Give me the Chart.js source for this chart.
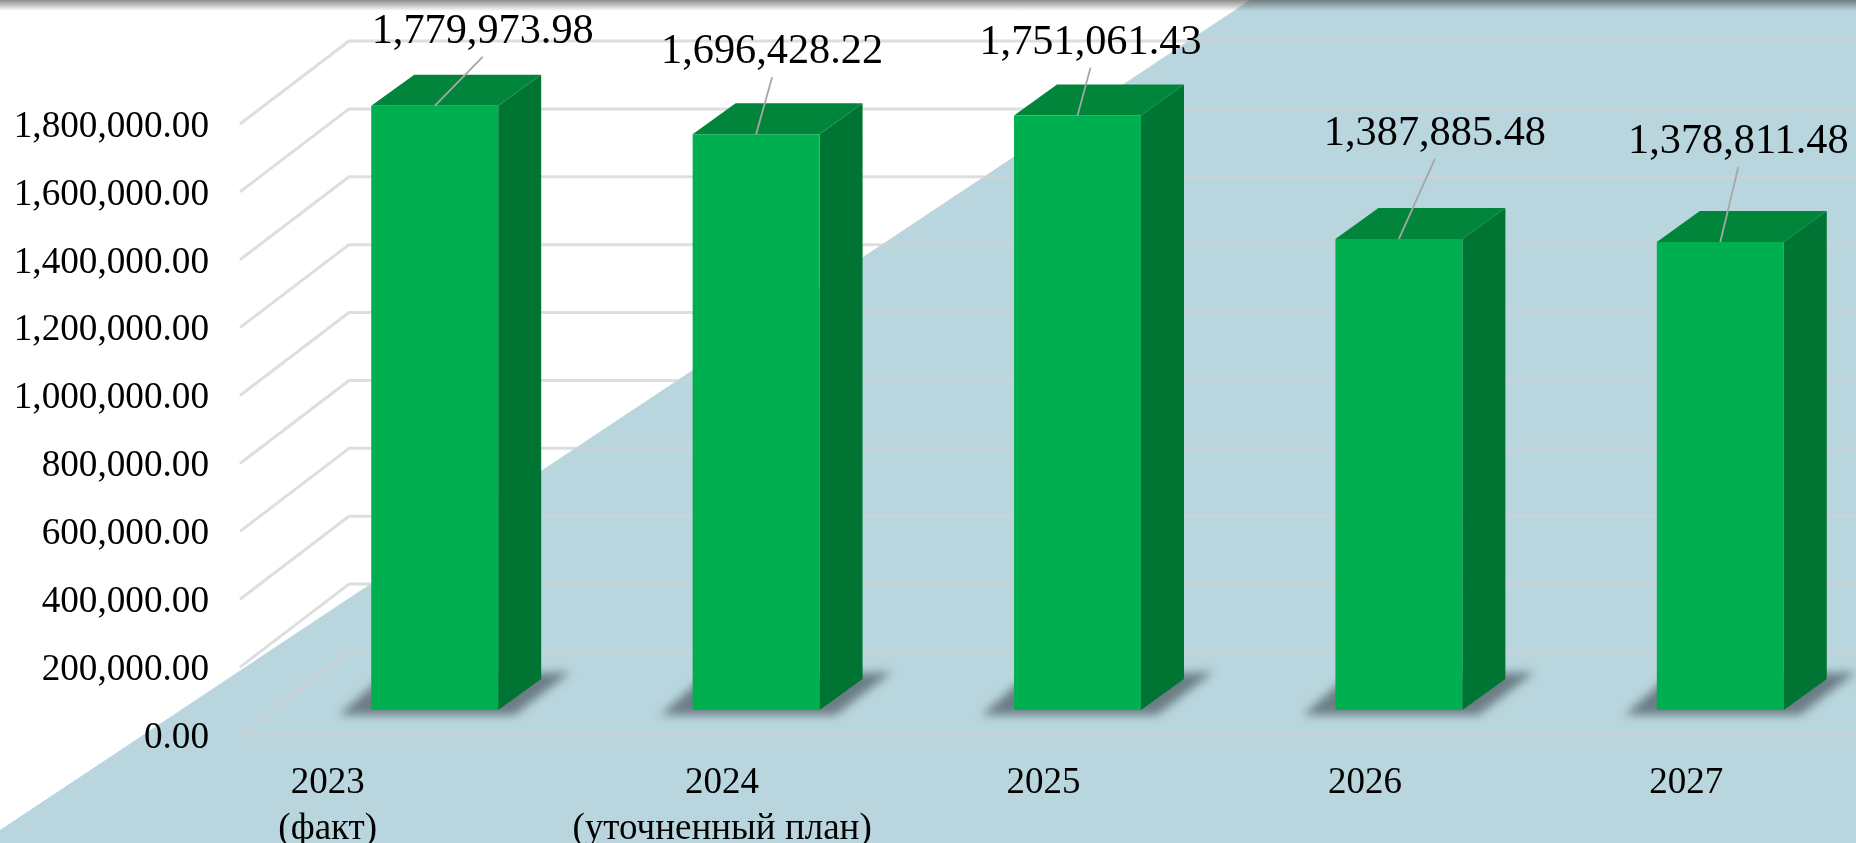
<!DOCTYPE html>
<html>
<head>
<meta charset="utf-8">
<title>chart</title>
<style>
    html, body { margin: 0; padding: 0; background: #fff; overflow: hidden; width: 1856px; height: 843px; }
    #floorBg { position: absolute; left: 0; top: 0; width: 1856px; height: 843px; background: #b9d6de;
        clip-path: polygon(1250px 0, 100% 0, 100% 100%, 0 100%, 0 830px); }
    #topShade { position: absolute; left: 0; top: 0; width: 1856px; height: 11px;
        background: linear-gradient(to bottom, rgba(70, 70, 70, .62), rgba(70, 70, 70, 0)); }
    #statsGraph { position: absolute; left: 0; top: 0; }
</style>
<script src="https://cdn.jsdelivr.net/npm/chart.js@4"></script>
</head>
<body>
<div id="floorBg"></div>
<canvas id="statsGraph" width="1881" height="843"></canvas>
<div id="topShade"></div>
<script>
"use strict"

const categories = [['2023', '(факт)'], ['2024', '(уточненный план)'], '2025', '2026', '2027']
const values = [1779973.98, 1696428.22, 1751061.43, 1387885.48, 1378811.48]
const tickStep = 200000
const tickMax = 1800000

// where each value label sits relative to the top middle of its bar
const labelShiftX = [48, 16, 13, 36, 18]
const labelShiftY = [-74, -82, -73, -105, -100]

const money = v => v.toLocaleString('en-US', { minimumFractionDigits: 2, maximumFractionDigits: 2 })
const serif = 'Liberation Serif'

// depth of the fake 3d look
const barDepth = { x: 43, y: 31 }
const wallX = 349
const floorLeft = 240
const wallShift = -58
const frontShift = 25
const gridColor = 'rgba(208, 208, 208, .7)'

let poly = function(ctx, pts, fill) {
    ctx.fillStyle = fill
    ctx.beginPath()
    pts.forEach((p, i) => i ? ctx.lineTo(p[0], p[1]) : ctx.moveTo(p[0], p[1]))
    ctx.closePath()
    ctx.fill()
}

const fake3d = {
    id: 'fake3d',
    beforeDraw(chart) {
        // first category label was moved by hand in the original
        let items = chart.scales.x.getLabelItems(chart.chartArea)
        if (items.length && !items[0].moved) {
            items[0].options.translation[0] -= 73
            items[0].moved = true
        }
    },
    beforeDatasetsDraw(chart) {
        let ctx = chart.ctx
        let y = chart.scales.y
        ctx.save()
        ctx.strokeStyle = gridColor
        ctx.lineWidth = 3
        ctx.lineJoin = 'round'
        ctx.beginPath()
        y.ticks.forEach(t => {
            let py = y.getPixelForValue(t.value)
            ctx.moveTo(floorLeft, py + frontShift)
            ctx.lineTo(wallX, py + wallShift)
            ctx.lineTo(chart.width, py + wallShift)
        })
        let zero = y.getPixelForValue(0)
        ctx.moveTo(floorLeft, zero + frontShift)
        ctx.lineTo(chart.width, zero + frontShift)
        ctx.stroke()

        chart.getDatasetMeta(0).data.forEach(bar => {
            let l = bar.x - bar.width / 2
            let r = bar.x + bar.width / 2
            let t = bar.y
            let b = bar.base
            ctx.save()
            ctx.filter = 'blur(5px)'
            poly(ctx, [[l - 32, b + 5], [l + 8, b - 30], [r + 72, b - 38], [r + 16, b + 5]], 'rgba(60, 70, 78, .62)')
            ctx.restore()
            poly(ctx, [[r, t], [r + barDepth.x, t - barDepth.y], [r + barDepth.x, b - barDepth.y], [r, b]], '#007432')
            poly(ctx, [[l, t], [l + barDepth.x, t - barDepth.y], [r + barDepth.x, t - barDepth.y], [r, t]], '#00853a')
        })
        ctx.restore()
    },
    afterDatasetsDraw(chart) {
        let ctx = chart.ctx
        ctx.save()
        ctx.textAlign = 'center'
        ctx.textBaseline = 'middle'
        ctx.font = '42.3px "' + serif + '"'
        chart.getDatasetMeta(0).data.forEach((bar, i) => {
            let lx = bar.x + labelShiftX[i]
            let ly = bar.y + labelShiftY[i]
            ctx.strokeStyle = '#a6a6a6'
            ctx.lineWidth = 1.8
            ctx.beginPath()
            ctx.moveTo(bar.x, bar.y)
            ctx.lineTo(lx, ly + 25)
            ctx.stroke()
            ctx.fillStyle = '#000'
            ctx.fillText(money(values[i]), lx, ly)
        })
        ctx.restore()
    }
}

let drawGraph = function() {
    let ctx = document.getElementById('statsGraph').getContext('2d')
    return new Chart(ctx, {
        type: 'bar',
        data: {
            labels: categories,
            datasets: [{
                label: 'values',
                data: values,
                backgroundColor: '#00b050',
                borderWidth: 0,
                barPercentage: 0.395,
                categoryPercentage: 1
            }]
        },
        plugins: [fake3d],
        options: {
            responsive: false,
            animation: false,
            devicePixelRatio: 1,
            layout: { autoPadding: false, padding: { top: 99, left: 0, right: 0, bottom: 0 } },
            plugins: { legend: { display: false }, title: { display: false }, tooltip: { enabled: false } },
            scales: {
                x: {
                    grid: { display: false },
                    border: { display: false },
                    afterFit: s => { s.height = 133 },
                    ticks: {
                        color: '#000',
                        padding: 42,
                        labelOffset: -34,
                        maxRotation: 0,
                        autoSkip: false,
                        font: { family: serif, size: 37, lineHeight: 1.24 }
                    }
                },
                y: {
                    min: 0,
                    max: tickMax,
                    grid: { display: false },
                    border: { display: false },
                    afterFit: s => { s.width = 274 },
                    ticks: {
                        stepSize: tickStep,
                        color: '#000',
                        padding: 57,
                        labelOffset: 28,
                        font: { family: serif, size: 37.2 },
                        callback: v => money(v)
                    }
                }
            }
        }
    })
}

drawGraph()
</script>
</body>
</html>
